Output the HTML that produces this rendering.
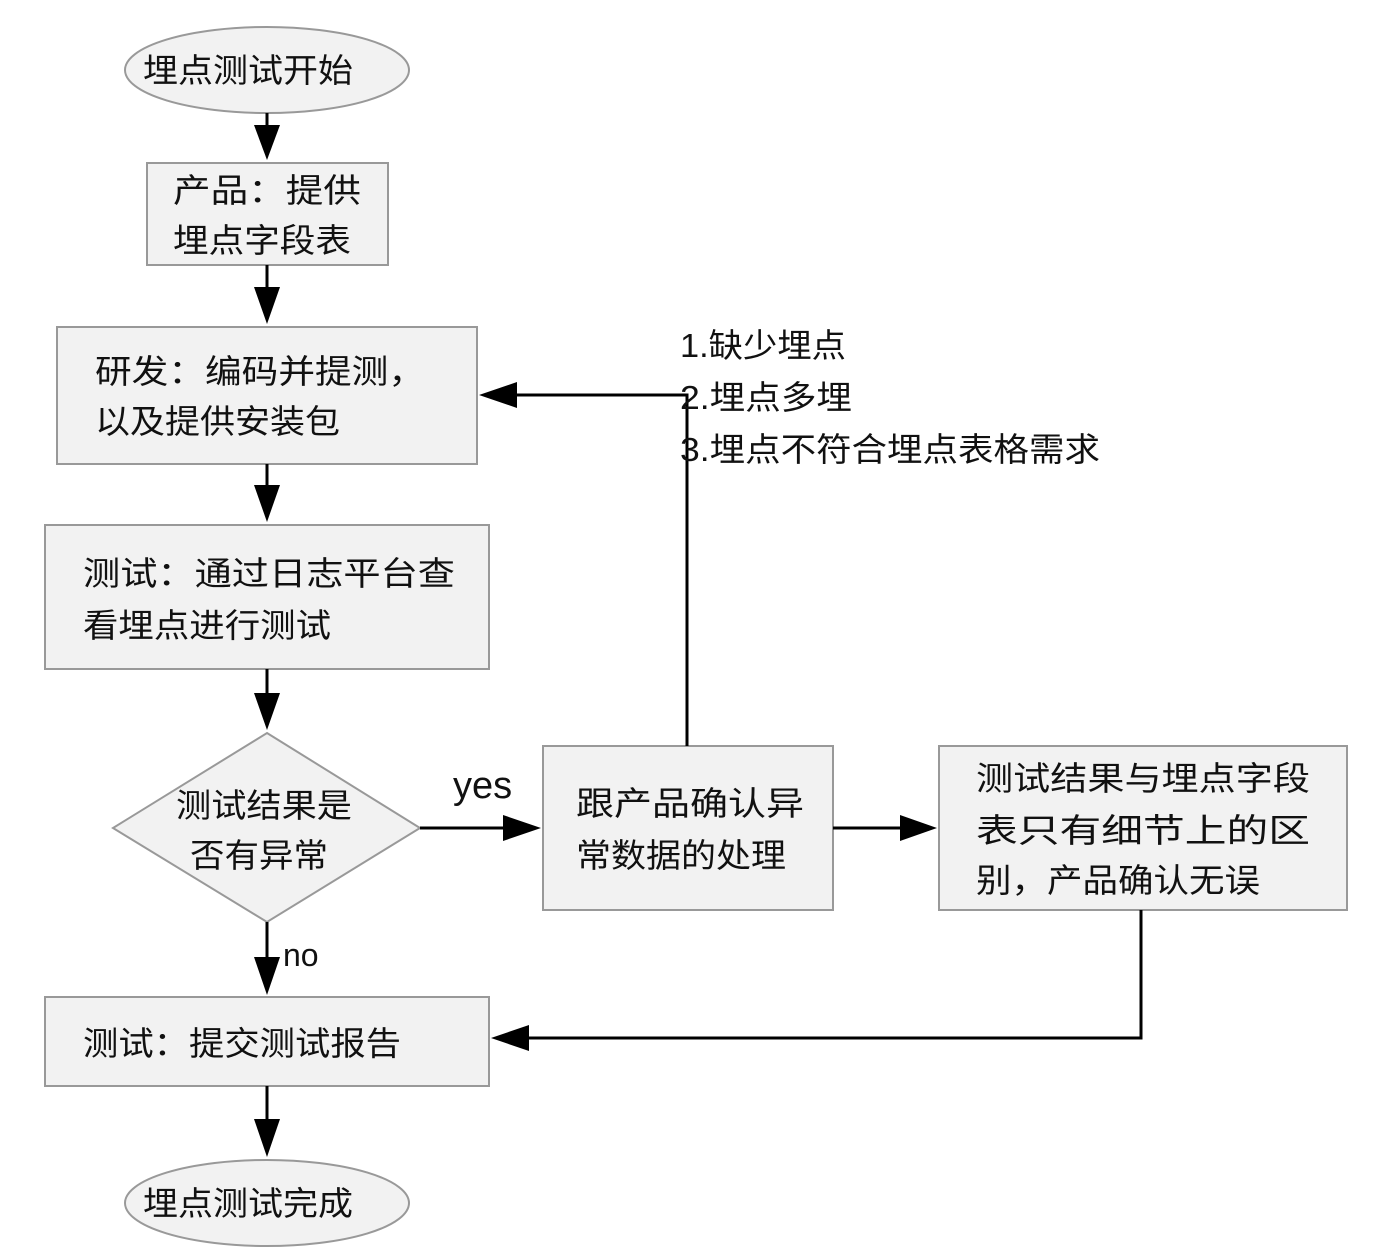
<!DOCTYPE html>
<html><head><meta charset="utf-8"><style>
html,body{margin:0;padding:0;background:#fff;}
svg{display:block;}
text{font-family:"Liberation Sans","Noto Sans CJK SC",sans-serif;fill:#111;}
</style></head><body>
<svg width="1374" height="1254" viewBox="0 0 1374 1254" xmlns="http://www.w3.org/2000/svg">
<defs>
<marker id="a" markerWidth="10" markerHeight="10" refX="10" refY="5" orient="auto" markerUnits="userSpaceOnUse" viewBox="0 0 10 10">
</marker>
</defs>
<g fill="#f2f2f2" stroke="#999" stroke-width="2">
<ellipse cx="267" cy="70" rx="142" ry="43"/>
<rect x="147" y="163" width="241" height="102"/>
<rect x="57" y="327" width="420" height="137"/>
<rect x="45" y="525" width="444" height="144"/>
<polygon points="267,733 420,828 267,922 113,828"/>
<rect x="543" y="746" width="290" height="164"/>
<rect x="939" y="746" width="408" height="164"/>
<rect x="45" y="997" width="444" height="89"/>
<ellipse cx="267" cy="1203" rx="142" ry="43"/>
</g>
<g stroke="#000" stroke-width="3" fill="none">
<line x1="267" y1="113" x2="267" y2="130"/>
<line x1="267" y1="265" x2="267" y2="292"/>
<line x1="267" y1="464" x2="267" y2="490"/>
<line x1="267" y1="669" x2="267" y2="698"/>
<line x1="267" y1="922" x2="267" y2="962"/>
<line x1="267" y1="1086" x2="267" y2="1124"/>
<line x1="420" y1="828" x2="508" y2="828"/>
<line x1="833" y1="828" x2="905" y2="828"/>
<polyline points="687,746 687,395 512,395"/>
<polyline points="1141,910 1141,1038 524,1038"/>
</g>
<g fill="#000">
<polygon points="254,125 280,125 267,160"/>
<polygon points="254,287 280,287 267,324"/>
<polygon points="254,485 280,485 267,522"/>
<polygon points="254,693 280,693 267,730"/>
<polygon points="254,957 280,957 267,995"/>
<polygon points="254,1119 280,1119 267,1157"/>
<polygon points="503,815 503,841 541,828"/>
<polygon points="900,815 900,841 937,828"/>
<polygon points="517,382 517,408 479,395"/>
<polygon points="529,1025 529,1051 491,1038"/>
</g>
<g font-size="33">
<text x="143" y="82" textLength="210" lengthAdjust="spacingAndGlyphs">埋点测试开始</text>
<text x="173" y="202" textLength="188" lengthAdjust="spacingAndGlyphs">产品：提供</text>
<text x="173" y="252" textLength="178" lengthAdjust="spacingAndGlyphs">埋点字段表</text>
<text x="95" y="383" textLength="330" lengthAdjust="spacingAndGlyphs">研发：编码并提测，</text>
<text x="95" y="433" textLength="245" lengthAdjust="spacingAndGlyphs">以及提供安装包</text>
<text x="83" y="585" textLength="372" lengthAdjust="spacingAndGlyphs">测试：通过日志平台查</text>
<text x="83" y="637" textLength="248" lengthAdjust="spacingAndGlyphs">看埋点进行测试</text>
<text x="176" y="817" textLength="176" lengthAdjust="spacingAndGlyphs">测试结果是</text>
<text x="190" y="867" textLength="138" lengthAdjust="spacingAndGlyphs">否有异常</text>
<text x="576" y="815" textLength="228" lengthAdjust="spacingAndGlyphs">跟产品确认异</text>
<text x="576" y="867" textLength="210" lengthAdjust="spacingAndGlyphs">常数据的处理</text>
<text x="976" y="790" textLength="334" lengthAdjust="spacingAndGlyphs">测试结果与埋点字段</text>
<text x="976" y="842" textLength="334" lengthAdjust="spacingAndGlyphs">表只有细节上的区</text>
<text x="976" y="892" textLength="284" lengthAdjust="spacingAndGlyphs">别，产品确认无误</text>
<text x="83" y="1055" textLength="318" lengthAdjust="spacingAndGlyphs">测试：提交测试报告</text>
<text x="143" y="1215" textLength="210" lengthAdjust="spacingAndGlyphs">埋点测试完成</text>
<text x="680" y="357" textLength="166" lengthAdjust="spacingAndGlyphs">1.缺少埋点</text>
<text x="680" y="409" textLength="172" lengthAdjust="spacingAndGlyphs">2.埋点多埋</text>
<text x="680" y="461" textLength="420" lengthAdjust="spacingAndGlyphs">3.埋点不符合埋点表格需求</text>
</g>
<text x="453" y="798" font-size="38">yes</text>
<text x="283" y="966" font-size="32">no</text>
</svg>
</body></html>
